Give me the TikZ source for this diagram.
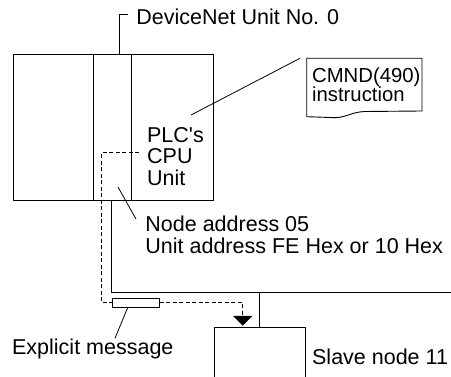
\documentclass[tikz,border=0pt]{standalone}
\usepackage{fontspec}
\setmainfont{Liberation Sans}
\begin{document}
\begin{tikzpicture}[x=1pt,y=-1pt, line width=0.9pt,
  lbl/.style={inner sep=0pt, anchor=base west, text depth=3pt, font=\fontsize{21.5}{20}\selectfont},
  lblsmall/.style={inner sep=0pt, anchor=base west, text height=15pt, text depth=3pt, font=\fontsize{20.3}{19}\selectfont},
  unitbox/.style={draw, inner sep=0pt, outer sep=0pt, anchor=north west},
  dsh/.style={dash pattern=on 4pt off 2.5pt, line width=0.8pt},
  leader/.style={line width=0.8pt}]
\useasboundingbox (0,0) rectangle (451,377);
% PLC rack
\node[unitbox, minimum width=199.7pt, minimum height=146pt] (plc) at (13.3,54) {};
\node[unitbox, minimum width=38.4pt, minimum height=146pt] (cpu) at (93.3,54) {};
% DeviceNet label
\node[lbl] (dn) at (136,25) {DeviceNet Unit No. 0};
\coordinate (brtop) at (119.3,54);
\coordinate (brend) at (128,14);
\draw (brtop) |- (brend);
% CMND instruction
\node[lblsmall] (cmnd1) at (311.7,82.7) {CMND(490)};
\node[lblsmall] (cmnd2) at (311.7,101.7) {instruction};
\coordinate (cmndc) at (306.7,58.3);
\draw (306.7,116.7) -- (cmndc) -- (422,58.3) -- (422,111) -- (365,111.5)
  .. controls (350,112) and (345,119) .. (330,117.5) -- cycle;
% PLC's CPU Unit
\node[inner sep=0pt, anchor=base west, font=\fontsize{21.5}{20}\selectfont] (plctxt) at (146.7,142.7)
  {\begin{tabular}[t]{@{}l@{}}PLC\textquotesingle s\\[-0.6pt]CPU\\[0.8pt]Unit\end{tabular}};
\coordinate (plcl) at (191,115);
\coordinate (cmndl) at (300,58.3);
\draw[leader] (plcl) -- (cmndl);
% Node address
\node[inner sep=0pt, anchor=base west, font=\fontsize{21.5}{20}\selectfont] (na) at (145,231.7)
  {\begin{tabular}[t]{@{}l@{}}Node address 05\\Unit address FE Hex or 10 Hex\end{tabular}};
\coordinate (nal1) at (118,187);
\coordinate (nal2) at (136,219);
\draw[leader] (nal1) -- (nal2);
% network line
\coordinate (n0) at (111.7,200.8);
\coordinate (n1) at (111.7,292.7);
\coordinate (n2) at (451,292.7);
\coordinate (nb) at (259,292.7);
\draw (n0) -- (n1) -- (n2);
% slave
\draw (214.3,380) -- (214.3,327.3) coordinate (sl) -- (305,327.3) coordinate (sr) -- (305,380);
\coordinate (stop) at (259,327.3);
\draw (nb) -- (stop);
\node[lbl] (slave) at (311.7,365) {Slave node 11};
% explicit message path
\node[draw, inner sep=0pt, minimum width=46.6pt, minimum height=8.7pt] (msg) at (136,302.7) {};
\coordinate (d0) at (139,152.7);
\coordinate (d1) at (101.7,152.7);
\coordinate (d2) at (101.7,302.7);
\coordinate (d3) at (242.7,302.7);
\coordinate (d4) at (242.7,316);
\draw[dsh] (d0) -- (d1) -- (d2) -- (msg.west);
\draw[dsh] (msg.east) -- (d3) -- (d4);
\fill (233,316) -- (252.4,316) -- (242.7,325.7) -- cycle;
\node[lbl] (expl) at (11.7,355) {Explicit message};
\coordinate (el1) at (127.7,307.5);
\coordinate (el2) at (115,338.3);
\draw[leader] (el1) -- (el2);
\end{tikzpicture}
\end{document}
